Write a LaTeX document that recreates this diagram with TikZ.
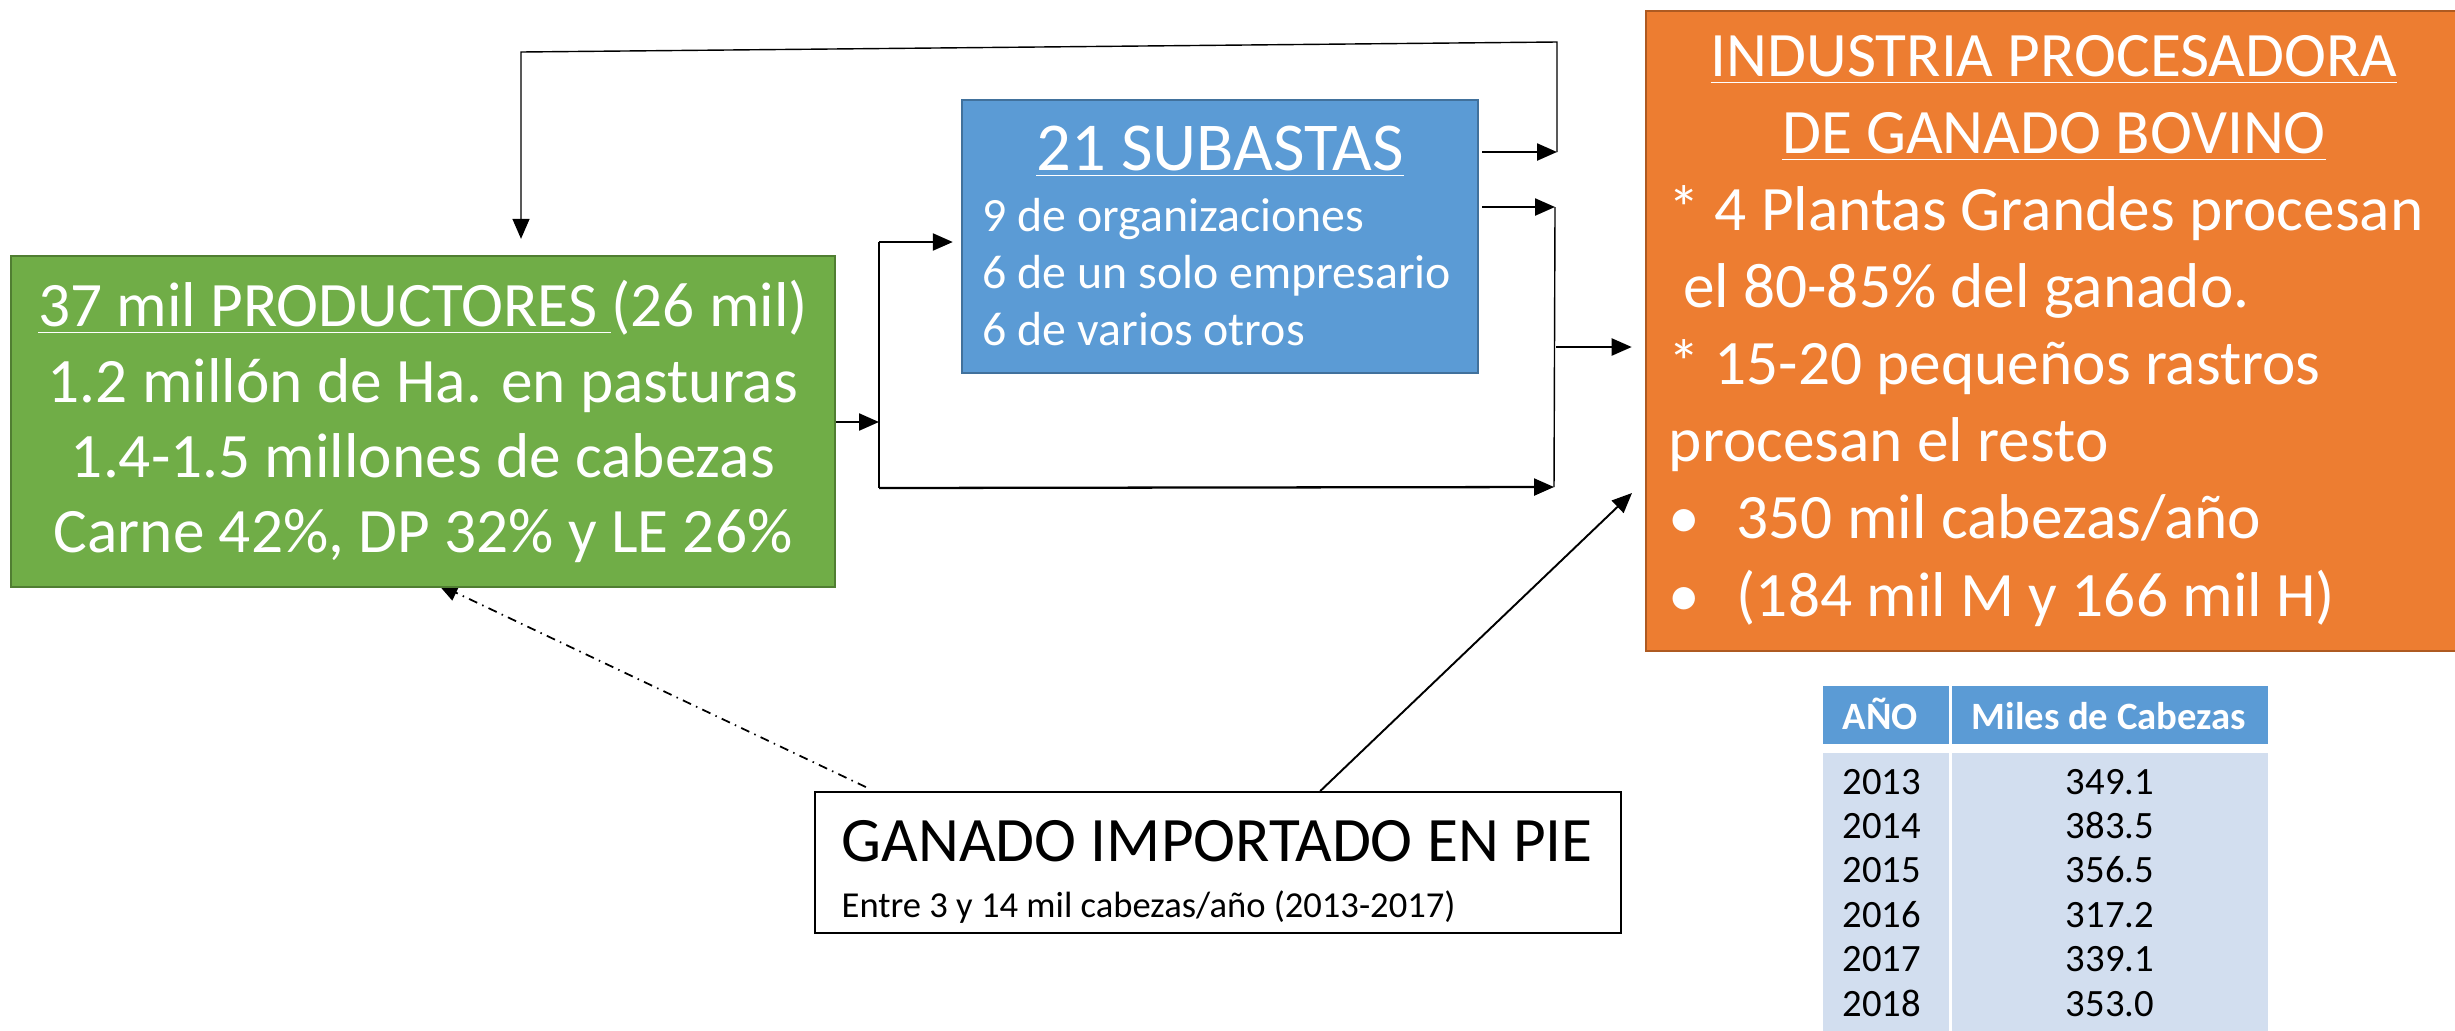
\documentclass[tikz,border=0pt]{standalone}
\usepackage{fontspec}
\setmainfont{Carlito}
\usetikzlibrary{arrows.meta,backgrounds}
\definecolor{prodgreen}{HTML}{70AD47}
\definecolor{prodedge}{HTML}{507E32}
\definecolor{subblue}{HTML}{5B9BD5}
\definecolor{subedge}{HTML}{41719C}
\definecolor{indorange}{HTML}{ED7D31}
\definecolor{indedge}{HTML}{AE5A21}
\definecolor{tabbody}{HTML}{D2DEEF}

\tikzset{
  box/.style={draw, line width=0.6pt, inner sep=0pt, text=white},
  lbl/.style={inner sep=0pt},
  tip/.style={-{Triangle[length=0.2cm,width=0.17cm]}},
  arr/.style={line width=0.65pt, tip},
  link/.style={line width=0.4pt},
}

\begin{document}
\begin{tikzpicture}[x=0.01cm, y=-0.01cm]
    \useasboundingbox (0,0) rectangle (2455,1030);
    % Productores
    \node[box, fill=prodgreen, draw=prodedge, minimum width=8.24cm, minimum height=3.31cm,
          align=center, font=\fontsize{18}{21.34}\selectfont] (prod) at (423,421.5)
        {\underline{37 mil PRODUCTORES\ }(26 mil)\\1.2 millón de Ha. en pasturas\\
         1.4-1.5 millones de cabezas\\Carne 42\%, DP 32\% y LE 26\%};
    % Subastas
    \node[box, fill=subblue, draw=subedge, minimum width=5.16cm, minimum height=2.73cm] (sub) at (1220,236.5) {};
    \node[lbl, text=white, anchor=base, font=\fontsize{19.5}{24}\selectfont] (subtit) at (1220,170) {\underline{21 SUBASTAS}};
    \node[lbl, text=white, anchor=north west, align=left, font=\fontsize{13.6}{16.2}\selectfont] (sublist) at (982,198)
        {9 de organizaciones\\6 de un solo empresario\\6 de varios otros};
    % Industria
    \node[box, fill=indorange, draw=indedge, minimum width=8.16cm, minimum height=6.39cm,
          align=left, font=\fontsize{18}{21.9}\selectfont] (ind) at (2054,331)
        {\makebox[7.7cm]{\underline{INDUSTRIA PROCESADORA}}\\
         \makebox[7.7cm]{\underline{DE GANADO BOVINO}}\\
         * 4 Plantas Grandes procesan\\
         \ el 80-85\% del ganado.\\
         * 15-20 pequeños rastros\\
         procesan el resto\\
         \makebox[0.68cm][l]{•}350 mil cabezas/año\\
         \makebox[0.68cm][l]{•}(184 mil M y 166 mil H)};
    % Importado
    \node[box, fill=white, draw=black, line width=0.5pt, minimum width=8.06cm, minimum height=1.41cm] (imp) at (1218,862.5) {};
    \node[lbl, anchor=base west, font=\fontsize{18}{21}\selectfont] (imptit) at (841,861) {GANADO IMPORTADO EN PIE};
    \node[lbl, anchor=base west, font=\fontsize{10.4}{12.5}\selectfont] (impsub) at (841,917) {Entre 3 y 14 mil cabezas/año (2013-2017)};

    % Tabla
    \fill[subblue] (1823,686) rectangle (1949,744);
    \fill[subblue] (1952,686) rectangle (2268,744);
    \fill[tabbody] (1823,753) rectangle (1949,1035);
    \fill[tabbody] (1952,753) rectangle (2268,1035);
    \node[lbl, anchor=base west, text=white, font=\fontsize{11}{13}\selectfont\bfseries] (anio) at (1842,729) {AÑO};
    \node[lbl, anchor=base west, text=white, font=\fontsize{11}{13}\selectfont\bfseries] (miles) at (1971,729) {Miles de Cabezas};
    \foreach \yr/\val [count=\i] in {2013/349.1, 2014/383.5, 2015/356.5, 2016/317.2, 2017/339.1, 2018/353.0} {
        \node[lbl, anchor=base west, font=\fontsize{11}{13}\selectfont] (yr\i) at (1842,{794+44.4*(\i-1)}) {\yr};
        \node[lbl, anchor=base, font=\fontsize{11}{13}\selectfont] (val\i) at (2110,{794+44.4*(\i-1)}) {\val};
    }

    % Conectores
    \coordinate (sA) at (879,242);
    \coordinate (sM) at (879,422);
    \coordinate (sB) at (879,488);
    \coordinate (jA) at (1555,207);
    \coordinate (jM) at (1556,347);
    \coordinate (jB) at (1554,487);
    \coordinate (fA) at (1557,152);
    \coordinate (fB) at (1557,42);
    \coordinate (fC) at (521,52);
    \coordinate (iT) at (1632,493);

    \draw[arr] (prod.east |- sM) -- (sM);
    \draw[link] (sA) -- (sB);
    \draw[arr, shorten >=0.08cm] (sA) -- (sub.west |- sA);
    \draw[arr] (sB) -- (jB);
    \draw[arr] ([xshift=0.03cm]sub.east |- jA) -- (jA);
    \draw[link] (jA) -- (jB);
    \draw[arr, shorten >=0.13cm] (jM) -- (ind.west |- jM);
    \draw[arr] ([xshift=0.03cm]sub.east |- fA) -- (fA);
    \draw[link, tip, shorten >=0.16cm] (fA) -- (fB) -- (fC) -- (prod.north -| fC);
    \draw[arr, line width=0.55pt] ([xshift=5.06cm]imp.north west) -- (iT);
    \begin{scope}[on background layer]
        \draw[line width=0.5pt, dash pattern=on 0.09cm off 0.055cm on 0.015cm off 0.055cm, tip]
            ([xshift=0.52cm,yshift=0.04cm]imp.north west) -- ([xshift=4.28cm,yshift=0.04cm]prod.south west);
    \end{scope}
\end{tikzpicture}
\end{document}
